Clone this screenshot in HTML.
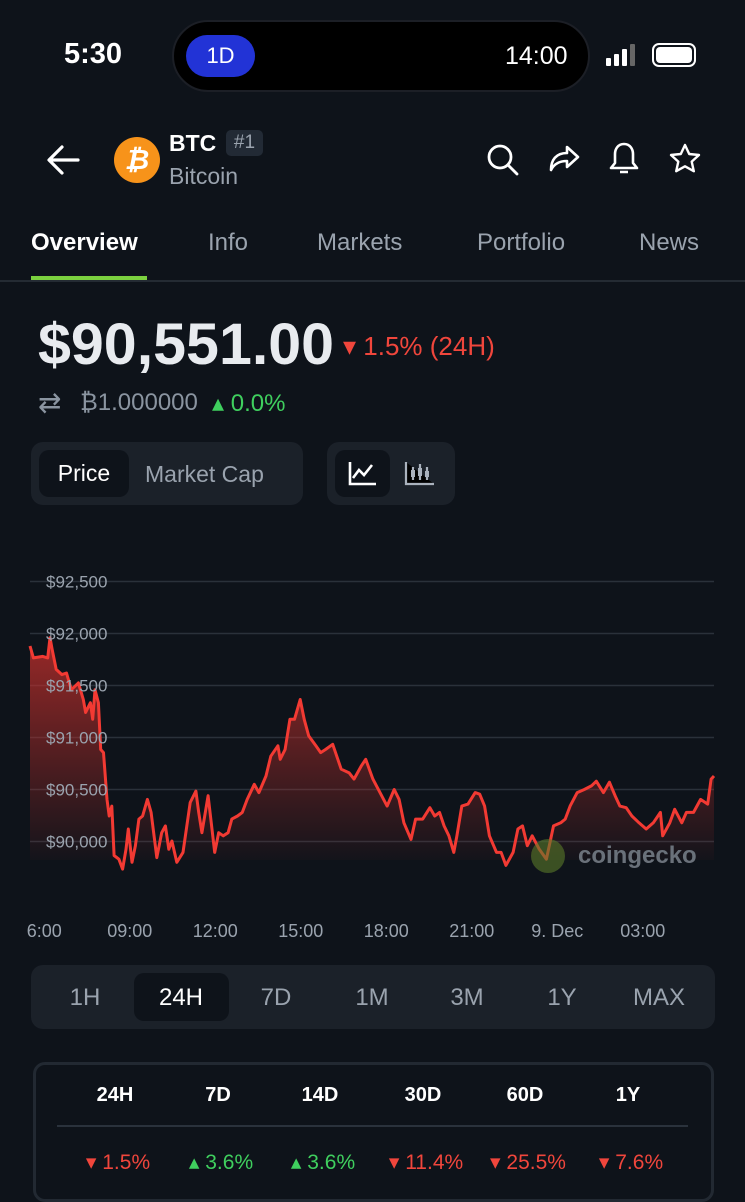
<!DOCTYPE html>
<html><head><meta charset="utf-8">
<style>
*{margin:0;padding:0;box-sizing:border-box}
body{width:745px;height:1200px;background:#0e131a;font-family:"Liberation Sans",sans-serif;color:#e6e9ee;position:relative;overflow:hidden}
.abs{position:absolute}
.tab{position:absolute;top:229px;font-size:24px;color:#9aa3ae}
.seg{position:absolute;background:#1b2129;border-radius:12px}
.rng{position:absolute;top:984px;font-size:24px;color:#9aa3ae;width:80px;text-align:center}
.hd{position:absolute;top:1084px;font-size:20px;font-weight:bold;width:90px;text-align:center;color:#fff}
.pv{position:absolute;top:1150px;font-size:21px;width:100px;text-align:center}
.red{color:#f0463c}.grn{color:#3fcf5e}
</style></head><body>
<div class="abs" style="left:64px;top:38px;font-size:29px;font-weight:bold;color:#fff">5:30</div>
<div class="abs" style="left:172px;top:20px;width:418px;height:72px;border-radius:36px;background:#000;border:2px solid #1c1f26"></div>
<div class="abs" style="left:186px;top:35px;width:69px;height:42px;border-radius:21px;background:#2233d6;color:#fff;font-size:22px;text-align:center;line-height:42px">1D</div>
<div class="abs" style="left:505px;top:42px;font-size:25px;color:#fff">14:00</div>
<div class="abs" style="left:606px;top:44px;width:28px;height:22px">
<div class="abs" style="left:0;top:14px;width:5px;height:8px;background:#fff;border-radius:1px"></div><div class="abs" style="left:8px;top:10px;width:5px;height:12px;background:#fff;border-radius:1px"></div><div class="abs" style="left:16px;top:5px;width:5px;height:17px;background:#fff;border-radius:1px"></div><div class="abs" style="left:24px;top:0;width:5px;height:22px;background:#666;border-radius:1px"></div></div>
<div class="abs" style="left:652px;top:43px;width:44px;height:24px;border:2px solid #fff;border-radius:7px;padding:2px"><div style="width:100%;height:100%;background:#fff;border-radius:4px"></div></div>

<svg class="abs" style="left:44px;top:142px" width="40" height="36" viewBox="0 0 40 36"><path d="M34 18H6M18 5L5 18l13 13" stroke="#fff" stroke-width="3.2" fill="none" stroke-linecap="round" stroke-linejoin="round"/></svg>
<div class="abs" style="left:114px;top:137px;width:46px;height:46px;border-radius:50%;background:#f7931a;color:#fff;font-size:28px;font-weight:bold;text-align:center;line-height:46px;font-style:italic">₿</div>
<div class="abs" style="left:169px;top:130px;font-size:23px;font-weight:bold;color:#fff">BTC</div>
<div class="abs" style="left:226px;top:130px;width:37px;height:26px;background:#222a35;border-radius:5px;color:#9aa3ae;font-size:19px;text-align:center;line-height:26px">#1</div>
<div class="abs" style="left:169px;top:163px;font-size:23px;color:#9aa3ae">Bitcoin</div>
<svg class="abs" style="left:486px;top:142px" width="34" height="36"><circle cx="14" cy="15" r="11" stroke="#fff" stroke-width="2.8" fill="none"/><path d="M22 23l9 9" stroke="#fff" stroke-width="2.8" stroke-linecap="round"/></svg>
<svg class="abs" style="left:546px;top:142px" width="36" height="34"><path d="M21 5l11 10-11 10v-6c-8 0-13 3-16 9 0-10 5-17 16-17z" stroke="#fff" stroke-width="2.6" fill="none" stroke-linejoin="round"/></svg>
<svg class="abs" style="left:608px;top:140px" width="32" height="38"><path d="M16 4c-6 0-9 5-9 10v9l-4 5h26l-4-5v-9c0-5-3-10-9-10zM12 32h8" stroke="#fff" stroke-width="2.6" fill="none" stroke-linejoin="round"/></svg>
<svg class="abs" style="left:668px;top:142px" width="34" height="34"><path d="M17 3l4.2 9 9.8 1-7.3 6.6 2.1 9.6L17 24.3l-8.8 4.9 2.1-9.6L3 13l9.8-1z" stroke="#fff" stroke-width="2.4" fill="none" stroke-linejoin="round"/></svg>

<div class="tab" style="left:31px;color:#fff;font-weight:bold">Overview</div>
<div class="tab" style="left:208px">Info</div>
<div class="tab" style="left:317px">Markets</div>
<div class="tab" style="left:477px">Portfolio</div>
<div class="tab" style="left:639px">News</div>
<div class="abs" style="left:0;top:280px;width:745px;height:2px;background:#242b33"></div>
<div class="abs" style="left:31px;top:276px;width:116px;height:4px;background:#7bd13f"></div>

<div class="abs" style="left:38px;top:311px;font-size:58px;font-weight:bold;color:#e8ebef;transform:scaleX(1.02);transform-origin:0 0;white-space:nowrap">$90,551.00</div>
<div class="abs red" style="left:343px;top:331px;font-size:26px">▾ 1.5% (24H)</div>
<div class="abs" style="left:38px;top:386px;font-size:28px;color:#8a94a0">⇄</div>
<div class="abs" style="left:80px;top:389px;font-size:24px;color:#8a94a0">₿1.000000</div>
<div class="abs grn" style="left:212px;top:389px;font-size:24px">▴ 0.0%</div>

<div class="seg" style="left:31px;top:442px;width:272px;height:63px"></div>
<div class="abs" style="left:39px;top:450px;width:90px;height:47px;background:#0e131a;border-radius:10px;font-size:23px;color:#fff;text-align:center;line-height:47px">Price</div>
<div class="abs" style="left:145px;top:461px;font-size:23px;color:#9aa3ae">Market Cap</div>
<div class="seg" style="left:327px;top:442px;width:128px;height:63px"></div>
<div class="abs" style="left:335px;top:450px;width:55px;height:47px;background:#0e131a;border-radius:10px"><svg width="55" height="47"><path d="M15 12v22h26M18 28l6-8 5 5 8-10" stroke="#fff" stroke-width="2.6" fill="none"/></svg></div>
<svg class="abs" style="left:402px;top:459px" width="34" height="30"><path d="M4 3v22h28M11 8v13M18 5v16M25 8v13" stroke="#aab2bd" stroke-width="2.2"/><rect x="9" y="11" width="4" height="7" fill="#aab2bd"/><rect x="16" y="9" width="4" height="8" fill="#aab2bd"/><rect x="23" y="12" width="4" height="6" fill="#aab2bd"/></svg>

<svg class="abs" id="chart" style="left:0;top:560px" width="745" height="390"></svg>

<div class="seg" style="left:31px;top:965px;width:684px;height:64px"></div>
<div class="abs" style="left:134px;top:973px;width:95px;height:48px;background:#0e131a;border-radius:10px"></div>
<div class="rng" style="left:45px">1H</div>
<div class="rng" style="left:141px;color:#fff">24H</div>
<div class="rng" style="left:236px">7D</div>
<div class="rng" style="left:332px">1M</div>
<div class="rng" style="left:427px">3M</div>
<div class="rng" style="left:522px">1Y</div>
<div class="rng" style="left:619px">MAX</div>

<div class="abs" style="left:33px;top:1062px;width:681px;height:140px;border:3px solid #222932;border-radius:12px"></div>
<div class="abs" style="left:57px;top:1125px;width:631px;height:2px;background:#2a323c"></div>
<div class="hd" style="left:70px">24H</div>
<div class="hd" style="left:173px">7D</div>
<div class="hd" style="left:275px">14D</div>
<div class="hd" style="left:378px">30D</div>
<div class="hd" style="left:480px">60D</div>
<div class="hd" style="left:583px">1Y</div>
<div class="pv red" style="left:68px">▾ 1.5%</div>
<div class="pv grn" style="left:171px">▴ 3.6%</div>
<div class="pv grn" style="left:273px">▴ 3.6%</div>
<div class="pv red" style="left:376px">▾ 11.4%</div>
<div class="pv red" style="left:478px">▾ 25.5%</div>
<div class="pv red" style="left:581px">▾ 7.6%</div>

<script>
const yTicks=[90000,90500,91000,91500,92000,92500];
const yTickLabels=["$90,000","$90,500","$91,000","$91,500","$92,000","$92,500"];
const xTickHours=[0.5,3.5,6.5,9.5,12.5,15.5,18.5,21.5];
const xTickLabels=["6:00","09:00","12:00","15:00","18:00","21:00","9. Dec","03:00"];
const hours=[0,.12,.45,.62,.7,.78,.92,1.12,1.28,1.45,1.7,1.87,1.95,2.12,2.2,2.28,2.4,2.48,2.58,2.7,2.78,2.87,2.95,3.12,3.25,3.37,3.45,3.58,3.7,3.82,3.95,4.12,4.25,4.45,4.62,4.75,4.87,4.98,5.15,5.37,5.62,5.82,5.92,6.03,6.25,6.48,6.62,6.78,6.95,7.08,7.28,7.45,7.62,7.87,8.03,8.28,8.45,8.7,8.78,8.95,9.12,9.28,9.48,9.62,9.78,10.03,10.2,10.37,10.62,10.92,11.2,11.37,11.62,11.78,12.03,12.28,12.53,12.78,12.95,13.12,13.37,13.53,13.78,14.03,14.2,14.37,14.53,14.7,14.87,14.98,15.15,15.37,15.62,15.78,15.95,16.12,16.37,16.53,16.7,16.95,17.12,17.28,17.45,17.62,17.87,18.12,18.37,18.62,18.78,18.95,19.2,19.45,19.7,19.87,20.12,20.33,20.53,20.7,20.92,21.12,21.37,21.62,21.87,22.12,22.2,22.45,22.62,22.87,23.03,23.28,23.53,23.78,23.9,24];
const prices=[91880,91765,91780,91765,91960,91845,91655,91605,91620,91460,91525,91365,91240,91335,91175,91460,91335,90885,90855,90405,90245,90340,89865,89830,89735,89925,90120,89800,89960,90215,90245,90405,90280,89845,90085,90150,89925,90005,89800,89895,90375,90485,90280,90085,90440,89895,90085,90055,90085,90215,90245,90280,90405,90550,90470,90630,90820,90920,90790,90885,91175,91175,91365,91175,91015,90920,90855,90885,90935,90695,90660,90600,90725,90790,90600,90470,90340,90500,90405,90180,90020,90215,90215,90325,90245,90280,90150,90055,89895,90055,90340,90360,90470,90455,90340,90055,89895,89895,89770,89895,90120,90150,89960,90055,89925,89830,90150,90180,90215,90340,90470,90500,90535,90580,90470,90570,90440,90340,90325,90245,90180,90120,90180,90280,90055,90180,90310,90180,90280,90280,90405,90360,90600,90630];

const svg=document.getElementById('chart');
const NS='http://www.w3.org/2000/svg';
const X0=30,X1=714,Y0=21.5,Y1=281.5;
const xs=h=>X0+(h/24)*(X1-X0);
const ys=p=>Y1-(p-90000)/2500*(Y1-Y0);
function mk(tag,attrs){const e=document.createElementNS(NS,tag);for(const k in attrs)e.setAttribute(k,attrs[k]);svg.appendChild(e);return e;}
const defs=mk('defs',{});
defs.innerHTML='<linearGradient id="fg" x1="0" y1="0" x2="0" y2="1"><stop offset="0" stop-color="#c8302c" stop-opacity="0.75"/><stop offset="1" stop-color="#c8302c" stop-opacity="0"/></linearGradient>';
yTicks.forEach((v,i)=>{
  const g=mk('line',{x1:30,x2:714,y1:ys(v),y2:ys(v),stroke:'#2a313a','stroke-width':1.5});
  
  
});
const n=Math.min(hours.length,prices.length);
let d='';
for(let i=0;i<n;i++)d+=(i?'L':'M')+xs(hours[i]).toFixed(1)+' '+ys(prices[i]).toFixed(1);
const area=mk('path',{d:d+'L'+xs(hours[n-1])+' 300L'+xs(hours[0])+' 300Z',fill:'url(#fg)'});


const line=mk('path',{d:d,fill:'none',stroke:'#f23a33','stroke-width':3,'stroke-linejoin':'round'});


yTicks.forEach((v,i)=>{
  const t=mk('text',{x:46,y:ys(v)+6,fill:'#9aa3ae','font-size':17,'font-family':'Liberation Sans, sans-serif'});
  t.textContent=yTickLabels[i];
  
  
});
xTickHours.forEach((h,i)=>{
  const t=mk('text',{x:xs(h),y:377,fill:'#9aa3ae','font-size':18,'text-anchor':'middle','font-family':'Liberation Sans, sans-serif'});
  t.textContent=xTickLabels[i];
  
  
});
const wc=mk('circle',{cx:548,cy:296,r:17,fill:'#5a7a2a','fill-opacity':0.6});


const wt=mk('text',{x:578,y:303,fill:'#6a717a','font-size':24,'font-weight':'bold','font-family':'Liberation Sans, sans-serif'});
wt.textContent='coingecko';


</script>
</body></html>
